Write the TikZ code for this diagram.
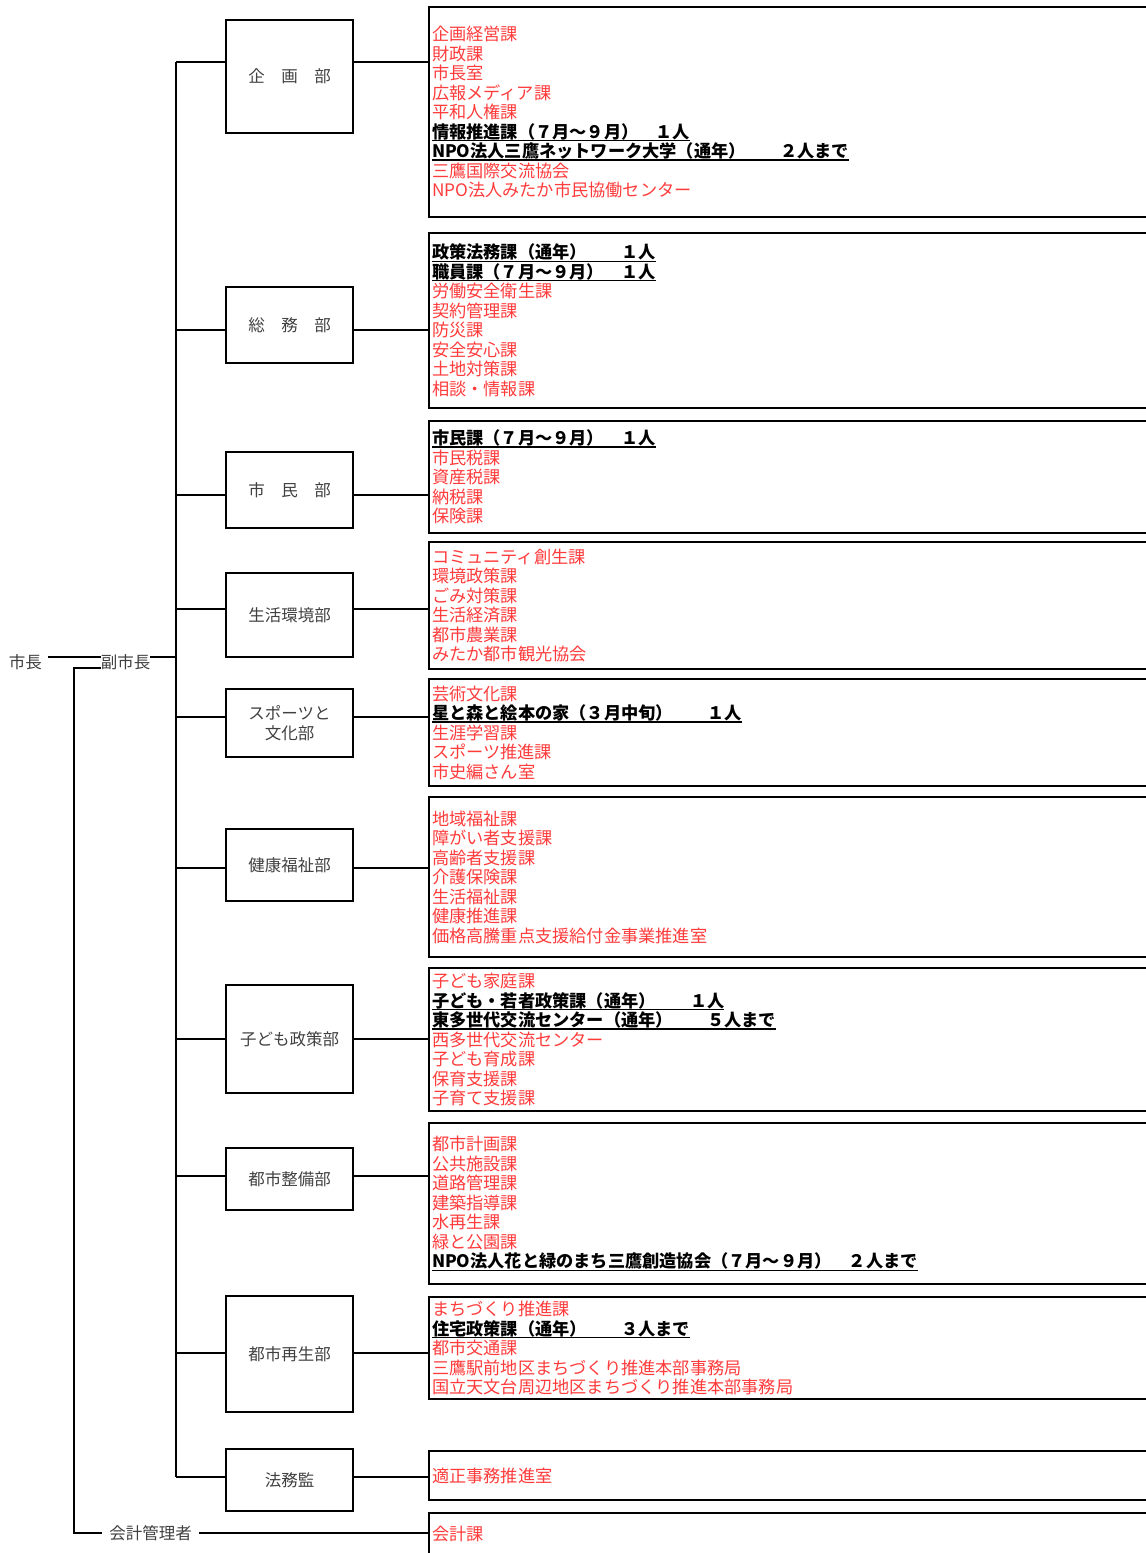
\documentclass[tikz,border=0pt]{standalone}
\usepackage{fontspec}
\setmainfont{Noto Sans CJK JP}
\usepackage{xcolor}
\usetikzlibrary{positioning}
\definecolor{deptgray}{HTML}{404040}
\definecolor{secred}{HTML}{FF3B3B}
% bold, underlined entry
\newcommand{\hl}[1]{\leavevmode{\color{black}\bfseries\setbox0\hbox{#1}\rlap{\rule[-3pt]{\wd0}{1.2pt}}\box0}}

\begin{document}
\begin{tikzpicture}[
  x=1pt,y=-1pt,
  line/.style={line width=1.8pt},
  dept/.style={draw,line width=2pt,minimum width=127pt,inner sep=0pt,align=center,text=deptgray,font=\fontsize{16.5}{20}\selectfont},
  sect/.style={draw,line width=2pt,anchor=north west,minimum width=740pt,text width=734pt,inner xsep=3pt,inner ysep=0pt,align=left,text=secred,font=\fontsize{17.2}{19.5}\selectfont},
  lbl/.style={text=deptgray,inner ysep=0pt,font=\fontsize{16.5}{20}\selectfont}
]
\useasboundingbox (0,0) rectangle (1146,1553);
\clip (0,0) rectangle (1146,1553);
% top of the tree
\node[lbl,inner xsep=6pt] (mayor) at (25.5,662) {市長};
\node[lbl,inner xsep=0pt] (vice) at (125.5,662) {副市長};
\node[lbl,inner xsep=7pt] (kaikei) at (150.5,1533) {会計管理者};
% departments
\node[dept,minimum height=113pt] (kikaku) at (289.5,76.5) {企　画　部};
\node[dept,minimum height=76pt] (somu) at (289.5,325) {総　務　部};
\node[dept,minimum height=76pt] (shimin) at (289.5,490) {市　民　部};
\node[dept,minimum height=84pt] (seikatsu) at (289.5,615) {生活環境部};
\node[dept,minimum height=68pt] (sports) at (289.5,723) {スポーツと\\文化部};
\node[dept,minimum height=72pt] (kenko) at (289.5,865) {健康福祉部};
\node[dept,minimum height=108pt] (kodomo) at (289.5,1039) {子ども政策部};
\node[dept,minimum height=62pt] (seibi) at (289.5,1179) {都市整備部};
\node[dept,minimum height=116pt] (saisei) at (289.5,1354) {都市再生部};
\node[dept,minimum height=62pt] (homu) at (289.5,1480) {法務監};
% sections
\node[sect,minimum height=210pt] (s1) at (428,6) {企画経営課\\財政課\\市長室\\広報メディア課\\平和人権課\\\hl{情報推進課（７月～９月）　１人}\\\hl{NPO法人三鷹ネットワーク大学（通年）　　２人まで}\\三鷹国際交流協会\\NPO法人みたか市民協働センター};
\node[sect,minimum height=175pt] (s2) at (428,232) {\hl{政策法務課（通年）　　１人}\\\hl{職員課（７月～９月）　１人}\\労働安全衛生課\\契約管理課\\防災課\\安全安心課\\土地対策課\\相談・情報課};
\node[sect,minimum height=112pt] (s3) at (428,420) {\hl{市民課（７月～９月）　１人}\\市民税課\\資産税課\\納税課\\保険課};
\node[sect,minimum height=127pt] (s4) at (428,541) {コミュニティ創生課\\環境政策課\\ごみ対策課\\生活経済課\\都市農業課\\みたか都市観光協会};
\node[sect,minimum height=107pt] (s5) at (428,678) {芸術文化課\\\hl{星と森と絵本の家（３月中旬）　　１人}\\生涯学習課\\スポーツ推進課\\市史編さん室};
\node[sect,minimum height=160pt] (s6) at (428,796) {地域福祉課\\障がい者支援課\\高齢者支援課\\介護保険課\\生活福祉課\\健康推進課\\価格高騰重点支援給付金事業推進室};
\node[sect,minimum height=143pt] (s7) at (428,967) {子ども家庭課\\\hl{子ども・若者政策課（通年）　　１人}\\\hl{東多世代交流センター（通年）　　５人まで}\\西多世代交流センター\\子ども育成課\\保育支援課\\子育て支援課};
\node[sect,minimum height=161pt] (s8) at (428,1122) {都市計画課\\公共施設課\\道路管理課\\建築指導課\\水再生課\\緑と公園課\\\hl{NPO法人花と緑のまち三鷹創造協会（７月～９月）　２人まで}};
\node[sect,minimum height=102pt] (s9) at (428,1296) {まちづくり推進課\\\hl{住宅政策課（通年）　　３人まで}\\都市交通課\\三鷹駅前地区まちづくり推進本部事務局\\国立天文台周辺地区まちづくり推進本部事務局};
\node[sect,minimum height=49pt] (s10) at (428,1450) {適正事務推進室};
\node[sect,minimum height=42pt] (s11) at (428,1512) {会計課};
% branch points on the trunk
\coordinate (c1) at (176,62);
\coordinate (c2) at (176,330);
\coordinate (c3) at (176,495);
\coordinate (c4) at (176,609);
\coordinate (c5) at (176,717);
\coordinate (c6) at (176,868);
\coordinate (c7) at (176,1039);
\coordinate (c8) at (176,1176);
\coordinate (c9) at (176,1353);
\coordinate (c10) at (176,1477);
\coordinate (vy) at (0,657);
\coordinate (kc) at (74,668);
\draw[line] (c1) -- (c10);
\foreach \c/\d/\s in {c1/kikaku/s1,c2/somu/s2,c3/shimin/s3,c4/seikatsu/s4,c5/sports/s5,c6/kenko/s6,c7/kodomo/s7,c8/seibi/s8,c9/saisei/s9,c10/homu/s10} {
  \draw[line] (\c) -- (\c -| \d.west);
  \draw[line] (\c -| \d.east) -- (\c -| \s.west);
}
\draw[line] (mayor.east |- vy) -- (vice.west |- vy);
\draw[line] (vice.east |- vy) -- (c1 |- vy);
\draw[line] (vice.west |- kc) -- (kc) |- (kaikei.west);
\draw[line] (kaikei.east) -- (kaikei.east -| s11.west);
\end{tikzpicture}
\end{document}
